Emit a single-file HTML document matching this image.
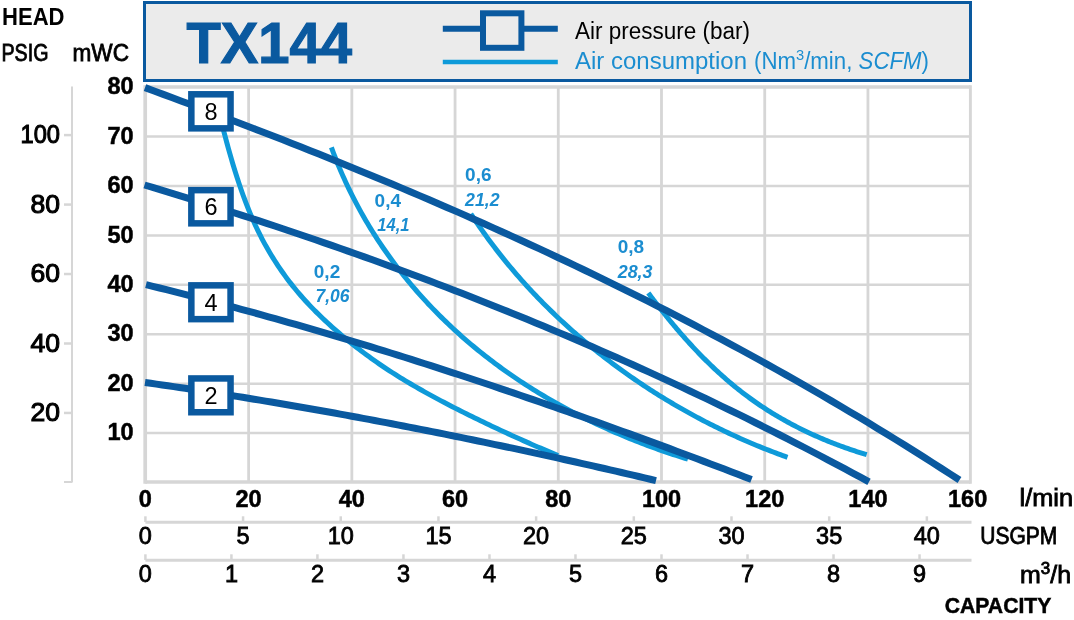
<!DOCTYPE html><html><head><meta charset="utf-8"><title>TX144 performance curve</title><style>html,body{margin:0;padding:0;background:#fff;width:1074px;height:620px;overflow:hidden}svg{display:block;will-change:transform}text{font-family:"Liberation Sans", Arial, sans-serif}</style></head><body>
<svg width="1074" height="620" viewBox="0 0 1074 620">
<rect width="1074" height="620" fill="#fff"/>
<rect x="144.5" y="2.5" width="826" height="78" fill="#ebebeb" stroke="#0a599f" stroke-width="3"/>
<text x="186.5" y="62.7" font-size="56.5" font-weight="bold" fill="#0a599f" stroke="#0a599f" stroke-width="1.2" textLength="165.5" lengthAdjust="spacingAndGlyphs">TX144</text>
<line x1="442.8" y1="28.7" x2="557.8" y2="28.7" stroke="#0a599f" stroke-width="6"/>
<rect x="483" y="13.3" width="38.4" height="34.5" fill="#ebebeb" stroke="#0a599f" stroke-width="6"/>
<line x1="442.8" y1="62.1" x2="557.8" y2="62.1" stroke="#0e9ad9" stroke-width="4.5"/>
<text x="575" y="39" font-size="23.5" textLength="175" lengthAdjust="spacingAndGlyphs">Air pressure (bar)</text>
<text x="575" y="68.9" font-size="23.5" fill="#1b8dd0" textLength="172" lengthAdjust="spacingAndGlyphs">Air consumption</text>
<text x="754" y="68.9" font-size="23.5" fill="#1b8dd0" textLength="175" lengthAdjust="spacingAndGlyphs">(Nm<tspan font-size="15.5" dy="-9">3</tspan><tspan dy="9">/min, </tspan><tspan font-style="italic">SCFM</tspan>)</text>
<text x="2" y="24.8" font-size="23.5" font-weight="bold" textLength="62.5" lengthAdjust="spacingAndGlyphs">HEAD</text>
<text x="1.5" y="60.9" font-size="23.5" stroke="#000" stroke-width="0.8" textLength="47" lengthAdjust="spacingAndGlyphs">PSIG</text>
<text x="72.5" y="60.9" font-size="23.5" stroke="#000" stroke-width="0.8" textLength="56.5" lengthAdjust="spacingAndGlyphs">mWC</text>
<path d="M248.62,87.21 V482.43 M351.84,87.21 V482.43 M455.06,87.21 V482.43 M558.28,87.21 V482.43 M661.5,87.21 V482.43 M764.72,87.21 V482.43 M867.94,87.21 V482.43" stroke="#d6d6d6" stroke-width="2.8" fill="none"/>
<path d="M145.4,433.03 H971.16 M145.4,383.63 H971.16 M145.4,334.22 H971.16 M145.4,284.82 H971.16 M145.4,235.42 H971.16 M145.4,186.02 H971.16 M145.4,136.62 H971.16" stroke="#d6d6d6" stroke-width="2.5" fill="none"/>
<path d="M145.2,87 H970.4 M145.2,481.9 H970.4" stroke="#d6d6d6" stroke-width="3.5" fill="none"/>
<path d="M145.2,85.25 V483.65" stroke="#d6d6d6" stroke-width="3.7" fill="none"/>
<path d="M970.4,85.25 V483.65" stroke="#d6d6d6" stroke-width="2.9" fill="none"/>
<path d="M72,86.5 V482.6 M64,482 H72" stroke="#d6d6d6" stroke-width="2" fill="none"/>
<path d="M64,412.96 H72" stroke="#d6d6d6" stroke-width="2.5"/>
<text x="60" y="421.16" font-size="26.5" text-anchor="end" stroke="#000" stroke-width="1.1">20</text>
<path d="M64,343.5 H72" stroke="#d6d6d6" stroke-width="2.5"/>
<text x="60" y="351.7" font-size="26.5" text-anchor="end" stroke="#000" stroke-width="1.1">40</text>
<path d="M64,274.03 H72" stroke="#d6d6d6" stroke-width="2.5"/>
<text x="60" y="282.23" font-size="26.5" text-anchor="end" stroke="#000" stroke-width="1.1">60</text>
<path d="M64,204.57 H72" stroke="#d6d6d6" stroke-width="2.5"/>
<text x="60" y="212.77" font-size="26.5" text-anchor="end" stroke="#000" stroke-width="1.1">80</text>
<path d="M64,135.1 H72" stroke="#d6d6d6" stroke-width="2.5"/>
<text x="60" y="143.3" font-size="26.5" text-anchor="end" textLength="39.5" lengthAdjust="spacingAndGlyphs" stroke="#000" stroke-width="1.1">100</text>
<text x="133.6" y="440.13" font-size="23.5" font-weight="bold" text-anchor="end" stroke="#000" stroke-width="0.5">10</text>
<text x="133.6" y="390.73" font-size="23.5" font-weight="bold" text-anchor="end" stroke="#000" stroke-width="0.5">20</text>
<text x="133.6" y="341.32" font-size="23.5" font-weight="bold" text-anchor="end" stroke="#000" stroke-width="0.5">30</text>
<text x="133.6" y="291.92" font-size="23.5" font-weight="bold" text-anchor="end" stroke="#000" stroke-width="0.5">40</text>
<text x="133.6" y="242.52" font-size="23.5" font-weight="bold" text-anchor="end" stroke="#000" stroke-width="0.5">50</text>
<text x="133.6" y="193.12" font-size="23.5" font-weight="bold" text-anchor="end" stroke="#000" stroke-width="0.5">60</text>
<text x="133.6" y="143.72" font-size="23.5" font-weight="bold" text-anchor="end" stroke="#000" stroke-width="0.5">70</text>
<text x="133.6" y="94.31" font-size="23.5" font-weight="bold" text-anchor="end" stroke="#000" stroke-width="0.5">80</text>
<text x="145.4" y="506.7" font-size="23.5" font-weight="bold" text-anchor="middle" stroke="#000" stroke-width="0.5">0</text>
<text x="248.62" y="506.7" font-size="23.5" font-weight="bold" text-anchor="middle" stroke="#000" stroke-width="0.5">20</text>
<text x="351.84" y="506.7" font-size="23.5" font-weight="bold" text-anchor="middle" stroke="#000" stroke-width="0.5">40</text>
<text x="455.06" y="506.7" font-size="23.5" font-weight="bold" text-anchor="middle" stroke="#000" stroke-width="0.5">60</text>
<text x="558.28" y="506.7" font-size="23.5" font-weight="bold" text-anchor="middle" stroke="#000" stroke-width="0.5">80</text>
<text x="661.5" y="506.7" font-size="23.5" font-weight="bold" text-anchor="middle" stroke="#000" stroke-width="0.5">100</text>
<text x="764.72" y="506.7" font-size="23.5" font-weight="bold" text-anchor="middle" stroke="#000" stroke-width="0.5">120</text>
<text x="867.94" y="506.7" font-size="23.5" font-weight="bold" text-anchor="middle" stroke="#000" stroke-width="0.5">140</text>
<text x="967.66" y="506.7" font-size="23.5" font-weight="bold" text-anchor="middle" stroke="#000" stroke-width="0.5">160</text>
<text x="1019.5" y="506.3" font-size="23.5" stroke="#000" stroke-width="0.8" textLength="53.5" lengthAdjust="spacingAndGlyphs">l/min</text>
<path d="M145.4,522.3 H971.5" stroke="#d6d6d6" stroke-width="3"/>
<path d="M145.4,516.3 V522" stroke="#d6d6d6" stroke-width="2.5"/>
<text x="145.4" y="544.2" font-size="23.5" text-anchor="middle" stroke="#000" stroke-width="0.8">0</text>
<path d="M243.08,516.3 V522" stroke="#d6d6d6" stroke-width="2.5"/>
<text x="243.08" y="544.2" font-size="23.5" text-anchor="middle" stroke="#000" stroke-width="0.8">5</text>
<path d="M340.77,516.3 V522" stroke="#d6d6d6" stroke-width="2.5"/>
<text x="340.77" y="544.2" font-size="23.5" text-anchor="middle" stroke="#000" stroke-width="0.8">10</text>
<path d="M438.45,516.3 V522" stroke="#d6d6d6" stroke-width="2.5"/>
<text x="438.45" y="544.2" font-size="23.5" text-anchor="middle" stroke="#000" stroke-width="0.8">15</text>
<path d="M536.13,516.3 V522" stroke="#d6d6d6" stroke-width="2.5"/>
<text x="536.13" y="544.2" font-size="23.5" text-anchor="middle" stroke="#000" stroke-width="0.8">20</text>
<path d="M633.81,516.3 V522" stroke="#d6d6d6" stroke-width="2.5"/>
<text x="633.81" y="544.2" font-size="23.5" text-anchor="middle" stroke="#000" stroke-width="0.8">25</text>
<path d="M731.5,516.3 V522" stroke="#d6d6d6" stroke-width="2.5"/>
<text x="731.5" y="544.2" font-size="23.5" text-anchor="middle" stroke="#000" stroke-width="0.8">30</text>
<path d="M829.18,516.3 V522" stroke="#d6d6d6" stroke-width="2.5"/>
<text x="829.18" y="544.2" font-size="23.5" text-anchor="middle" stroke="#000" stroke-width="0.8">35</text>
<path d="M926.86,516.3 V522" stroke="#d6d6d6" stroke-width="2.5"/>
<text x="926.86" y="544.2" font-size="23.5" text-anchor="middle" stroke="#000" stroke-width="0.8">40</text>
<text x="980.3" y="544.4" font-size="23" stroke="#000" stroke-width="0.8" textLength="77" lengthAdjust="spacingAndGlyphs">USGPM</text>
<path d="M145.4,560.3 H971.5" stroke="#d6d6d6" stroke-width="3"/>
<path d="M145.4,554.3 V560" stroke="#d6d6d6" stroke-width="2.5"/>
<text x="145.4" y="582.4" font-size="23.5" text-anchor="middle" stroke="#000" stroke-width="0.8">0</text>
<path d="M231.42,554.3 V560" stroke="#d6d6d6" stroke-width="2.5"/>
<text x="231.42" y="582.4" font-size="23.5" text-anchor="middle" stroke="#000" stroke-width="0.8">1</text>
<path d="M317.43,554.3 V560" stroke="#d6d6d6" stroke-width="2.5"/>
<text x="317.43" y="582.4" font-size="23.5" text-anchor="middle" stroke="#000" stroke-width="0.8">2</text>
<path d="M403.45,554.3 V560" stroke="#d6d6d6" stroke-width="2.5"/>
<text x="403.45" y="582.4" font-size="23.5" text-anchor="middle" stroke="#000" stroke-width="0.8">3</text>
<path d="M489.47,554.3 V560" stroke="#d6d6d6" stroke-width="2.5"/>
<text x="489.47" y="582.4" font-size="23.5" text-anchor="middle" stroke="#000" stroke-width="0.8">4</text>
<path d="M575.48,554.3 V560" stroke="#d6d6d6" stroke-width="2.5"/>
<text x="575.48" y="582.4" font-size="23.5" text-anchor="middle" stroke="#000" stroke-width="0.8">5</text>
<path d="M661.5,554.3 V560" stroke="#d6d6d6" stroke-width="2.5"/>
<text x="661.5" y="582.4" font-size="23.5" text-anchor="middle" stroke="#000" stroke-width="0.8">6</text>
<path d="M747.52,554.3 V560" stroke="#d6d6d6" stroke-width="2.5"/>
<text x="747.52" y="582.4" font-size="23.5" text-anchor="middle" stroke="#000" stroke-width="0.8">7</text>
<path d="M833.53,554.3 V560" stroke="#d6d6d6" stroke-width="2.5"/>
<text x="833.53" y="582.4" font-size="23.5" text-anchor="middle" stroke="#000" stroke-width="0.8">8</text>
<path d="M919.55,554.3 V560" stroke="#d6d6d6" stroke-width="2.5"/>
<text x="919.55" y="582.4" font-size="23.5" text-anchor="middle" stroke="#000" stroke-width="0.8">9</text>
<text x="1020" y="582.6" font-size="23.5" stroke="#000" stroke-width="0.8" textLength="51" lengthAdjust="spacingAndGlyphs">m<tspan font-size="16" dy="-8.5">3</tspan><tspan dy="8.5">/h</tspan></text>
<text x="944.8" y="613.3" font-size="22.5" font-weight="bold" stroke="#000" stroke-width="0.5" textLength="106.5" lengthAdjust="spacingAndGlyphs">CAPACITY</text>
<path d="M220.85,120.09 L221.63,123.1 L222.41,126.12 L223.2,129.14 L224,132.16 L224.8,135.19 L225.61,138.21 L226.43,141.24 L227.25,144.27 L228.08,147.3 L228.93,150.34 L229.78,153.37 L230.65,156.4 L231.52,159.43 L232.41,162.45 L233.31,165.48 L234.23,168.5 L235.16,171.52 L236.11,174.53 L237.07,177.54 L238.04,180.55 L239.04,183.55 L240.05,186.54 L241.08,189.53 L242.13,192.51 L243.2,195.48 L244.29,198.44 L245.4,201.4 L246.53,204.34 L247.68,207.28 L248.86,210.21 L250.06,213.12 L251.28,216.02 L252.53,218.92 L253.81,221.79 L255.11,224.66 L256.44,227.51 L257.79,230.35 L259.18,233.18 L260.59,235.99 L262.03,238.78 L263.51,241.56 L265.01,244.32 L266.54,247.06 L268.1,249.79 L269.68,252.51 L271.3,255.2 L272.95,257.88 L274.62,260.54 L276.32,263.18 L278.05,265.8 L279.81,268.41 L281.59,271 L283.41,273.56 L285.25,276.11 L287.12,278.64 L289.01,281.15 L290.94,283.63 L292.89,286.1 L294.87,288.55 L296.87,290.97 L298.9,293.38 L300.96,295.76 L303.04,298.13 L305.15,300.47 L307.28,302.79 L309.44,305.09 L311.62,307.37 L313.82,309.63 L316.04,311.87 L318.28,314.09 L320.54,316.3 L322.82,318.48 L325.12,320.65 L327.43,322.79 L329.77,324.92 L332.11,327.03 L334.48,329.12 L336.86,331.19 L339.25,333.25 L341.66,335.29 L344.07,337.31 L346.5,339.31 L348.95,341.3 L351.4,343.27 L353.86,345.22 L356.34,347.16 L358.82,349.08 L361.32,350.98 L363.82,352.87 L366.34,354.74 L368.87,356.59 L371.41,358.43 L373.97,360.25 L376.53,362.05 L379.11,363.84 L381.69,365.6 L384.29,367.36 L386.9,369.09 L389.53,370.81 L392.16,372.51 L394.81,374.19 L397.46,375.86 L400.13,377.51 L402.81,379.15 L405.5,380.78 L408.19,382.39 L410.9,383.99 L413.61,385.58 L416.33,387.15 L419.06,388.71 L421.8,390.27 L424.54,391.81 L427.29,393.34 L430.05,394.86 L432.81,396.37 L435.58,397.87 L438.35,399.36 L441.13,400.84 L443.92,402.31 L446.71,403.77 L449.51,405.22 L452.31,406.67 L455.11,408.11 L457.92,409.54 L460.74,410.96 L463.55,412.37 L466.37,413.78 L469.2,415.18 L472.02,416.57 L474.85,417.96 L477.69,419.34 L480.52,420.72 L483.36,422.09 L486.19,423.45 L489.04,424.81 L491.88,426.16 L494.73,427.51 L497.57,428.85 L500.43,430.18 L503.28,431.51 L506.14,432.83 L509,434.14 L511.86,435.45 L514.72,436.75 L517.59,438.05 L520.46,439.33 L523.33,440.62 L526.21,441.89 L529.09,443.16 L531.97,444.42 L534.85,445.67 L537.74,446.92 L540.63,448.16 L543.52,449.39 L546.42,450.61 L549.32,451.83 L552.22,453.04 L555.13,454.24 L558.03,455.44" stroke="#0e9ad9" stroke-width="5" fill="none"/>
<path d="M331.4,147.36 L332.48,150.32 L333.59,153.27 L334.72,156.22 L335.86,159.14 L337.03,162.06 L338.22,164.97 L339.42,167.86 L340.65,170.75 L341.89,173.62 L343.16,176.48 L344.44,179.33 L345.74,182.17 L347.06,185 L348.4,187.81 L349.75,190.61 L351.13,193.4 L352.52,196.18 L353.94,198.95 L355.37,201.71 L356.82,204.45 L358.29,207.19 L359.77,209.91 L361.27,212.61 L362.79,215.31 L364.33,218 L365.89,220.67 L367.46,223.33 L369.05,225.98 L370.66,228.62 L372.29,231.24 L373.93,233.85 L375.59,236.45 L377.26,239.04 L378.96,241.62 L380.67,244.18 L382.39,246.73 L384.14,249.27 L385.9,251.8 L387.67,254.31 L389.46,256.81 L391.27,259.3 L393.09,261.78 L394.93,264.24 L396.79,266.69 L398.66,269.13 L400.55,271.56 L402.45,273.97 L404.37,276.37 L406.3,278.76 L408.25,281.13 L410.21,283.49 L412.19,285.84 L414.19,288.18 L416.2,290.5 L418.22,292.82 L420.26,295.11 L422.31,297.4 L424.38,299.67 L426.46,301.93 L428.55,304.17 L430.66,306.41 L432.78,308.63 L434.92,310.83 L437.07,313.02 L439.24,315.2 L441.42,317.37 L443.61,319.52 L445.82,321.66 L448.04,323.79 L450.27,325.9 L452.51,328 L454.77,330.09 L457.04,332.16 L459.33,334.22 L461.63,336.26 L463.94,338.29 L466.26,340.31 L468.6,342.32 L470.94,344.31 L473.3,346.28 L475.68,348.25 L478.06,350.19 L480.46,352.13 L482.86,354.05 L485.28,355.96 L487.72,357.85 L490.16,359.73 L492.61,361.6 L495.08,363.45 L497.56,365.29 L500.04,367.11 L502.54,368.92 L505.05,370.72 L507.57,372.5 L510.1,374.27 L512.64,376.03 L515.2,377.77 L517.76,379.5 L520.33,381.21 L522.91,382.91 L525.5,384.6 L528.1,386.27 L530.71,387.93 L533.33,389.58 L535.96,391.21 L538.6,392.83 L541.24,394.43 L543.9,396.02 L546.56,397.6 L549.23,399.16 L551.91,400.71 L554.6,402.25 L557.3,403.77 L560.01,405.28 L562.72,406.77 L565.44,408.25 L568.17,409.72 L570.9,411.18 L573.65,412.62 L576.4,414.04 L579.16,415.46 L581.92,416.86 L584.69,418.24 L587.47,419.61 L590.25,420.97 L593.05,422.32 L595.84,423.65 L598.65,424.97 L601.46,426.27 L604.27,427.56 L607.09,428.84 L609.92,430.11 L612.75,431.36 L615.59,432.59 L618.44,433.82 L621.28,435.03 L624.14,436.22 L627,437.41 L629.86,438.58 L632.73,439.73 L635.6,440.88 L638.48,442.01 L641.36,443.12 L644.24,444.22 L647.13,445.31 L650.02,446.39 L652.92,447.45 L655.82,448.5 L658.73,449.54 L661.63,450.56 L664.54,451.57 L667.46,452.56 L670.37,453.54 L673.29,454.51 L676.21,455.47 L679.14,456.41 L682.07,457.34 L684.99,458.25 L687.93,459.16" stroke="#0e9ad9" stroke-width="5" fill="none"/>
<path d="M470.83,213.82 L472.22,215.95 L473.63,218.07 L475.04,220.19 L476.47,222.3 L477.91,224.4 L479.35,226.5 L480.81,228.59 L482.28,230.68 L483.75,232.75 L485.24,234.82 L486.73,236.89 L488.24,238.94 L489.75,240.99 L491.27,243.04 L492.81,245.07 L494.35,247.1 L495.9,249.13 L497.46,251.14 L499.03,253.15 L500.61,255.15 L502.2,257.15 L503.8,259.14 L505.4,261.12 L507.02,263.09 L508.64,265.06 L510.28,267.02 L511.92,268.97 L513.57,270.92 L515.23,272.86 L516.9,274.79 L518.58,276.71 L520.26,278.63 L521.96,280.54 L523.66,282.44 L525.37,284.34 L527.09,286.23 L528.82,288.11 L530.56,289.98 L532.3,291.85 L534.06,293.71 L535.82,295.56 L537.59,297.4 L539.37,299.24 L541.15,301.07 L542.95,302.89 L544.75,304.71 L546.56,306.52 L548.37,308.32 L550.2,310.11 L552.03,311.89 L553.87,313.67 L555.72,315.44 L557.58,317.21 L559.44,318.96 L561.31,320.71 L563.19,322.45 L565.08,324.18 L566.97,325.9 L568.87,327.62 L570.78,329.33 L572.69,331.03 L574.62,332.72 L576.54,334.41 L578.48,336.09 L580.42,337.76 L582.37,339.42 L584.33,341.08 L586.3,342.72 L588.27,344.36 L590.25,345.99 L592.23,347.62 L594.22,349.23 L596.22,350.84 L598.22,352.44 L600.23,354.03 L602.25,355.61 L604.27,357.19 L606.31,358.76 L608.34,360.32 L610.38,361.87 L612.43,363.41 L614.49,364.95 L616.55,366.47 L618.62,367.99 L620.69,369.5 L622.77,371 L624.86,372.5 L626.95,373.98 L629.04,375.46 L631.15,376.93 L633.26,378.39 L635.37,379.85 L637.49,381.29 L639.62,382.73 L641.75,384.15 L643.89,385.57 L646.03,386.99 L648.18,388.39 L650.33,389.78 L652.49,391.17 L654.65,392.55 L656.82,393.92 L658.99,395.28 L661.17,396.63 L663.36,397.97 L665.55,399.31 L667.74,400.63 L669.94,401.95 L672.14,403.26 L674.35,404.56 L676.57,405.85 L678.79,407.13 L681.01,408.41 L683.24,409.67 L685.47,410.93 L687.71,412.18 L689.95,413.42 L692.19,414.65 L694.44,415.87 L696.7,417.08 L698.96,418.29 L701.22,419.48 L703.49,420.67 L705.76,421.85 L708.03,423.01 L710.31,424.17 L712.6,425.32 L714.88,426.47 L717.18,427.6 L719.47,428.72 L721.77,429.84 L724.07,430.94 L726.38,432.04 L728.69,433.13 L731,434.21 L733.32,435.27 L735.64,436.33 L737.97,437.38 L740.3,438.43 L742.63,439.46 L744.96,440.48 L747.3,441.5 L749.64,442.5 L751.98,443.5 L754.33,444.48 L756.68,445.46 L759.04,446.43 L761.39,447.38 L763.75,448.33 L766.11,449.27 L768.48,450.2 L770.85,451.12 L773.22,452.03 L775.59,452.94 L777.97,453.83 L780.35,454.71 L782.73,455.58 L785.11,456.45 L787.5,457.3" stroke="#0e9ad9" stroke-width="5" fill="none"/>
<path d="M648.27,292.94 L649.32,294.34 L650.37,295.73 L651.42,297.13 L652.48,298.52 L653.54,299.91 L654.6,301.29 L655.66,302.68 L656.73,304.06 L657.8,305.44 L658.88,306.82 L659.96,308.2 L661.04,309.57 L662.12,310.94 L663.21,312.31 L664.3,313.68 L665.4,315.04 L666.5,316.4 L667.6,317.76 L668.7,319.12 L669.81,320.47 L670.93,321.82 L672.04,323.17 L673.16,324.51 L674.29,325.85 L675.42,327.19 L676.55,328.53 L677.68,329.86 L678.82,331.18 L679.96,332.51 L681.11,333.83 L682.26,335.15 L683.41,336.46 L684.57,337.77 L685.73,339.07 L686.9,340.37 L688.07,341.67 L689.25,342.97 L690.42,344.25 L691.61,345.54 L692.79,346.82 L693.98,348.1 L695.18,349.37 L696.38,350.64 L697.58,351.9 L698.79,353.16 L700,354.41 L701.22,355.66 L702.44,356.9 L703.66,358.14 L704.89,359.38 L706.12,360.61 L707.36,361.83 L708.6,363.05 L709.85,364.26 L711.1,365.47 L712.36,366.67 L713.62,367.87 L714.88,369.06 L716.15,370.25 L717.43,371.43 L718.71,372.6 L719.99,373.77 L721.28,374.94 L722.58,376.09 L723.87,377.24 L725.18,378.39 L726.49,379.53 L727.8,380.66 L729.12,381.79 L730.44,382.91 L731.77,384.02 L733.1,385.13 L734.44,386.23 L735.78,387.32 L737.13,388.41 L738.48,389.49 L739.84,390.56 L741.2,391.63 L742.57,392.69 L743.95,393.74 L745.33,394.78 L746.71,395.82 L748.1,396.85 L749.5,397.88 L750.9,398.89 L752.3,399.9 L753.71,400.9 L755.13,401.9 L756.55,402.88 L757.98,403.86 L759.41,404.84 L760.84,405.8 L762.28,406.76 L763.73,407.71 L765.18,408.66 L766.64,409.59 L768.1,410.52 L769.56,411.45 L771.03,412.36 L772.51,413.27 L773.99,414.17 L775.47,415.07 L776.96,415.95 L778.45,416.83 L779.95,417.71 L781.46,418.57 L782.96,419.43 L784.47,420.28 L785.99,421.13 L787.51,421.97 L789.04,422.8 L790.56,423.62 L792.1,424.44 L793.64,425.25 L795.18,426.05 L796.72,426.85 L798.27,427.64 L799.83,428.42 L801.39,429.19 L802.95,429.96 L804.52,430.72 L806.09,431.48 L807.66,432.23 L809.24,432.97 L810.82,433.7 L812.41,434.43 L814,435.15 L815.59,435.86 L817.19,436.57 L818.79,437.27 L820.39,437.96 L822,438.65 L823.62,439.33 L825.23,440 L826.85,440.67 L828.47,441.33 L830.1,441.98 L831.73,442.63 L833.36,443.26 L835,443.9 L836.64,444.52 L838.28,445.14 L839.93,445.76 L841.58,446.36 L843.23,446.96 L844.89,447.55 L846.55,448.14 L848.21,448.72 L849.87,449.29 L851.54,449.86 L853.21,450.42 L854.89,450.97 L856.56,451.52 L858.24,452.06 L859.93,452.59 L861.61,453.12 L863.3,453.64 L864.99,454.15 L866.69,454.66" stroke="#0e9ad9" stroke-width="5" fill="none"/>
<path d="M145,87.62 L154.15,90.99 L163.3,94.37 L172.46,97.76 L181.61,101.17 L190.76,104.59 L199.91,108.02 L209.06,111.47 L218.21,114.93 L227.37,118.41 L236.52,121.9 L245.67,125.41 L254.82,128.94 L263.97,132.48 L273.12,136.04 L282.28,139.61 L291.43,143.21 L300.58,146.82 L309.73,150.45 L318.88,154.1 L328.03,157.77 L337.19,161.46 L346.34,165.17 L355.49,168.9 L364.64,172.65 L373.79,176.42 L382.94,180.22 L392.1,184.04 L401.25,187.87 L410.4,191.74 L419.55,195.62 L428.7,199.53 L437.85,203.46 L447.01,207.42 L456.16,211.4 L465.31,215.41 L474.46,219.44 L483.61,223.5 L492.76,227.59 L501.92,231.7 L511.07,235.84 L520.22,240.01 L529.37,244.2 L538.52,248.42 L547.67,252.68 L556.83,256.96 L565.98,261.27 L575.13,265.61 L584.28,269.98 L593.43,274.38 L602.58,278.81 L611.74,283.28 L620.89,287.77 L630.04,292.3 L639.19,296.86 L648.34,301.45 L657.49,306.08 L666.65,310.74 L675.8,315.44 L684.95,320.17 L694.1,324.93 L703.25,329.73 L712.4,334.57 L721.56,339.44 L730.71,344.35 L739.86,349.29 L749.01,354.27 L758.16,359.29 L767.31,364.35 L776.47,369.45 L785.62,374.58 L794.77,379.76 L803.92,384.97 L813.07,390.23 L822.22,395.52 L831.38,400.85 L840.53,406.23 L849.68,411.65 L858.83,417.11 L867.98,422.61 L877.13,428.16 L886.29,433.74 L895.44,439.38 L904.59,445.05 L913.74,450.77 L922.89,456.54 L932.04,462.35 L941.2,468.2 L950.35,474.1 L959.5,480.05" stroke="#0a599f" stroke-width="7" fill="none"/>
<path d="M144.5,184.99 L152.64,187.43 L160.78,189.89 L168.92,192.36 L177.06,194.85 L185.2,197.35 L193.34,199.87 L201.48,202.41 L209.62,204.96 L217.76,207.53 L225.9,210.12 L234.04,212.73 L242.19,215.35 L250.33,217.99 L258.47,220.65 L266.61,223.32 L274.75,226.02 L282.89,228.73 L291.03,231.46 L299.17,234.21 L307.31,236.98 L315.45,239.76 L323.59,242.57 L331.73,245.39 L339.87,248.24 L348.01,251.1 L356.15,253.99 L364.29,256.89 L372.43,259.81 L380.57,262.76 L388.71,265.72 L396.85,268.7 L404.99,271.71 L413.13,274.73 L421.28,277.78 L429.42,280.85 L437.56,283.93 L445.7,287.04 L453.84,290.17 L461.98,293.33 L470.12,296.5 L478.26,299.7 L486.4,302.91 L494.54,306.15 L502.68,309.42 L510.82,312.7 L518.96,316.01 L527.1,319.34 L535.24,322.69 L543.38,326.07 L551.52,329.47 L559.66,332.89 L567.8,336.34 L575.94,339.81 L584.08,343.31 L592.22,346.83 L600.37,350.37 L608.51,353.94 L616.65,357.53 L624.79,361.15 L632.93,364.79 L641.07,368.45 L649.21,372.15 L657.35,375.86 L665.49,379.6 L673.63,383.37 L681.77,387.17 L689.91,390.99 L698.05,394.83 L706.19,398.7 L714.33,402.6 L722.47,406.53 L730.61,410.48 L738.75,414.46 L746.89,418.46 L755.03,422.49 L763.17,426.55 L771.31,430.64 L779.46,434.75 L787.6,438.9 L795.74,443.07 L803.88,447.26 L812.02,451.49 L820.16,455.75 L828.3,460.03 L836.44,464.34 L844.58,468.68 L852.72,473.05 L860.86,477.45 L869,481.88" stroke="#0a599f" stroke-width="7" fill="none"/>
<path d="M146,284.62 L152.8,286.29 L159.61,287.98 L166.41,289.68 L173.21,291.39 L180.02,293.11 L186.82,294.85 L193.62,296.61 L200.43,298.38 L207.23,300.16 L214.03,301.95 L220.84,303.76 L227.64,305.58 L234.44,307.41 L241.25,309.26 L248.05,311.11 L254.85,312.99 L261.66,314.87 L268.46,316.77 L275.26,318.68 L282.07,320.6 L288.87,322.54 L295.67,324.48 L302.48,326.44 L309.28,328.42 L316.08,330.4 L322.89,332.4 L329.69,334.41 L336.49,336.43 L343.3,338.46 L350.1,340.5 L356.9,342.56 L363.71,344.63 L370.51,346.71 L377.31,348.8 L384.12,350.9 L390.92,353.02 L397.72,355.14 L404.53,357.28 L411.33,359.43 L418.13,361.59 L424.94,363.76 L431.74,365.94 L438.54,368.13 L445.35,370.33 L452.15,372.55 L458.96,374.77 L465.76,377.01 L472.56,379.25 L479.37,381.51 L486.17,383.77 L492.97,386.05 L499.78,388.34 L506.58,390.64 L513.38,392.94 L520.19,395.26 L526.99,397.59 L533.79,399.93 L540.6,402.27 L547.4,404.63 L554.2,407 L561.01,409.37 L567.81,411.76 L574.61,414.15 L581.42,416.56 L588.22,418.97 L595.02,421.39 L601.83,423.83 L608.63,426.27 L615.43,428.72 L622.24,431.18 L629.04,433.65 L635.84,436.12 L642.65,438.61 L649.45,441.1 L656.25,443.61 L663.06,446.12 L669.86,448.64 L676.66,451.17 L683.47,453.7 L690.27,456.25 L697.07,458.8 L703.88,461.36 L710.68,463.93 L717.48,466.51 L724.29,469.1 L731.09,471.69 L737.89,474.29 L744.7,476.9 L751.5,479.51" stroke="#0a599f" stroke-width="7" fill="none"/>
<path d="M145,382.46 L150.74,383.28 L156.48,384.1 L162.22,384.93 L167.97,385.77 L173.71,386.62 L179.45,387.47 L185.19,388.33 L190.93,389.19 L196.67,390.07 L202.42,390.95 L208.16,391.84 L213.9,392.73 L219.64,393.63 L225.38,394.54 L231.12,395.45 L236.87,396.37 L242.61,397.3 L248.35,398.24 L254.09,399.18 L259.83,400.13 L265.57,401.08 L271.31,402.05 L277.06,403.01 L282.8,403.99 L288.54,404.97 L294.28,405.96 L300.02,406.96 L305.76,407.96 L311.51,408.97 L317.25,409.98 L322.99,411 L328.73,412.03 L334.47,413.06 L340.21,414.11 L345.96,415.15 L351.7,416.21 L357.44,417.27 L363.18,418.33 L368.92,419.4 L374.66,420.48 L380.4,421.57 L386.15,422.66 L391.89,423.76 L397.63,424.86 L403.37,425.97 L409.11,427.09 L414.85,428.21 L420.6,429.34 L426.34,430.47 L432.08,431.61 L437.82,432.76 L443.56,433.91 L449.3,435.07 L455.04,436.23 L460.79,437.4 L466.53,438.58 L472.27,439.76 L478.01,440.95 L483.75,442.14 L489.49,443.34 L495.24,444.55 L500.98,445.76 L506.72,446.98 L512.46,448.2 L518.2,449.43 L523.94,450.66 L529.69,451.9 L535.43,453.15 L541.17,454.4 L546.91,455.66 L552.65,456.92 L558.39,458.19 L564.13,459.46 L569.88,460.74 L575.62,462.03 L581.36,463.32 L587.1,464.61 L592.84,465.91 L598.58,467.22 L604.33,468.53 L610.07,469.85 L615.81,471.17 L621.55,472.5 L627.29,473.83 L633.03,475.17 L638.78,476.51 L644.52,477.86 L650.26,479.22 L656,480.57" stroke="#0a599f" stroke-width="7" fill="none"/>
<rect x="191.35" y="94.3" width="39.2" height="34.05" fill="#fff" stroke="#0a599f" stroke-width="6.5"/>
<text x="211" y="119.62" font-size="23.5" text-anchor="middle">8</text>
<rect x="191.35" y="190.15" width="39.2" height="33.2" fill="#fff" stroke="#0a599f" stroke-width="6.5"/>
<text x="211" y="215.05" font-size="23.5" text-anchor="middle">6</text>
<rect x="191.35" y="285.35" width="39.2" height="33.8" fill="#fff" stroke="#0a599f" stroke-width="6.5"/>
<text x="211" y="310.55" font-size="23.5" text-anchor="middle">4</text>
<rect x="191.35" y="378.45" width="39.2" height="33.8" fill="#fff" stroke="#0a599f" stroke-width="6.5"/>
<text x="211" y="403.65" font-size="23.5" text-anchor="middle">2</text>
<text x="313.8" y="277.9" font-size="19" font-weight="bold" fill="#1b8dd0">0,2</text>
<text x="315.5" y="302" font-size="19" font-weight="bold" fill="#1b8dd0" font-style="italic" textLength="34" lengthAdjust="spacingAndGlyphs">7,06</text>
<text x="374.6" y="206.6" font-size="19" font-weight="bold" fill="#1b8dd0">0,4</text>
<text x="377.3" y="231.3" font-size="19" font-weight="bold" fill="#1b8dd0" font-style="italic" textLength="32.3" lengthAdjust="spacingAndGlyphs">14,1</text>
<text x="465.1" y="180.7" font-size="19" font-weight="bold" fill="#1b8dd0">0,6</text>
<text x="465.1" y="205.8" font-size="19" font-weight="bold" fill="#1b8dd0" font-style="italic" textLength="34.5" lengthAdjust="spacingAndGlyphs">21,2</text>
<text x="617.7" y="253.2" font-size="19" font-weight="bold" fill="#1b8dd0">0,8</text>
<text x="617.7" y="278.4" font-size="19" font-weight="bold" fill="#1b8dd0" font-style="italic" textLength="34.8" lengthAdjust="spacingAndGlyphs">28,3</text>
</svg></body></html>
